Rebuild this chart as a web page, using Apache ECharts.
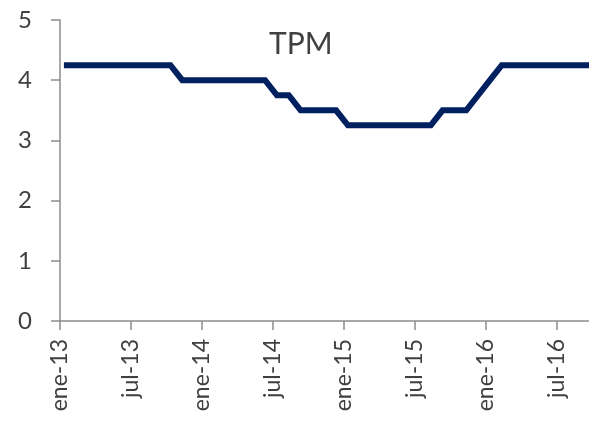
<!DOCTYPE html>
<html>
<head>
<meta charset="utf-8">
<script src="https://cdn.jsdelivr.net/npm/echarts@6/dist/echarts.min.js"></script>
<style>
  html, body { margin: 0; padding: 0; background: #fff; }
  #chart { width: 589px; height: 424px; }
</style>
</head>
<body>
<div id="chart"></div>
<script>
// monthly TPM, ene-13 .. oct-16
const months = [
  'ene-13', 'feb-13', 'mar-13', 'abr-13', 'may-13', 'jun-13', 'jul-13', 'ago-13', 'sep-13', 'oct-13', 'nov-13', 'dic-13',
  'ene-14', 'feb-14', 'mar-14', 'abr-14', 'may-14', 'jun-14', 'jul-14', 'ago-14', 'sep-14', 'oct-14', 'nov-14', 'dic-14',
  'ene-15', 'feb-15', 'mar-15', 'abr-15', 'may-15', 'jun-15', 'jul-15', 'ago-15', 'sep-15', 'oct-15', 'nov-15', 'dic-15',
  'ene-16', 'feb-16', 'mar-16', 'abr-16', 'may-16', 'jun-16', 'jul-16', 'ago-16', 'sep-16', 'oct-16'
];
const tpm = [
  4.25, 4.25, 4.25, 4.25, 4.25, 4.25, 4.25, 4.25, 4.25, 4.25, 4.0, 4.0,
  4.0, 4.0, 4.0, 4.0, 4.0, 4.0, 3.75, 3.75, 3.5, 3.5, 3.5, 3.5,
  3.25, 3.25, 3.25, 3.25, 3.25, 3.25, 3.25, 3.25, 3.5, 3.5, 3.5, 3.75,
  4.0, 4.25, 4.25, 4.25, 4.25, 4.25, 4.25, 4.25, 4.25, 4.25
];
const tickLabels = ['ene-13', 'jul-13', 'ene-14', 'jul-14', 'ene-15', 'jul-15', 'ene-16', 'jul-16'];
const yTicks = [0, 1, 2, 3, 4, 5];

const textColor = '#404040';
const axisColor = '#8c8c8c';
const font = 'Lato';

const tickPos = tickLabels.map((_, i) => i * 6);

const option = {
  animation: false,
  title: {
    text: 'TPM',
    left: 264,
    top: 24,
    textStyle: {
      fontFamily: font,
      fontSize: 30,
      fontWeight: 'normal',
      color: textColor
    }
  },
  grid: {
    left: 60,
    right: 0,
    top: 20,
    bottom: 103,
    containLabel: false
  },
  xAxis: [
    {
      // visible axis carrying the half-year ticks
      type: 'value',
      min: 0,
      max: 44.7,
      axisLine: { lineStyle: { color: axisColor, width: 1.5 } },
      axisTick: {
        show: true,
        length: 9,
        customValues: tickPos,
        lineStyle: { color: axisColor, width: 1.5 }
      },
      axisLabel: {
        customValues: tickPos,
        rotate: 90,
        margin: 18,
        fontFamily: font,
        fontSize: 23,
        color: textColor,
        formatter: (v) => tickLabels[Math.round(v / 6)] || ''
      },
      splitLine: { show: false }
    },
    {
      // hidden month axis for the data (points sit a bit after each tick)
      type: 'value',
      min: -0.33,
      max: 44.37,
      show: false
    }
  ],
  yAxis: {
    type: 'value',
    min: 0,
    max: 5,
    interval: 1,
    axisLine: { show: true, lineStyle: { color: axisColor, width: 1.5 } },
    axisTick: { show: true, length: 9, lineStyle: { color: axisColor, width: 1.5 } },
    axisLabel: {
      margin: 28,
      fontFamily: font,
      fontSize: 24,
      color: textColor,
      formatter: (v) => yTicks.includes(v) ? String(v) : ''
    },
    splitLine: { show: false }
  },
  series: [
    {
      type: 'line',
      xAxisIndex: 1,
      data: tpm.map((v, i) => [i, v]),
      symbol: 'none',
      lineStyle: { color: '#002060', width: 6, join: 'miter' }
    }
  ]
};

const myChart = echarts.init(document.getElementById('chart'));
myChart.setOption(option);
</script>
</body>
</html>
